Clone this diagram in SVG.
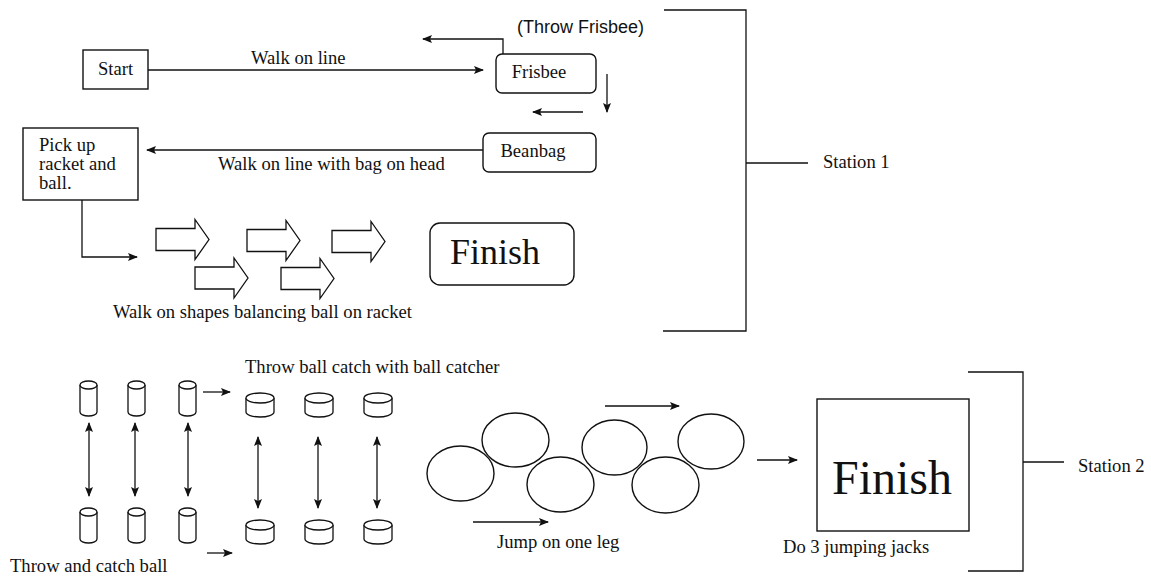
<svg xmlns="http://www.w3.org/2000/svg" xmlns:xlink="http://www.w3.org/1999/xlink" width="1151" height="579" viewBox="0 0 1151 579">
<style>
.s{fill:none;stroke:#111;stroke-width:1.3}
.b{fill:#fff;stroke:#111;stroke-width:1.4}
.t{font-family:"Liberation Serif","Times New Roman",serif;font-size:18.6px;fill:#111}
.a{font-family:"Liberation Sans",Arial,sans-serif;font-size:18px;fill:#111}
</style>
<defs>
<marker id="ah" viewBox="0 0 10 8" refX="9" refY="4" markerWidth="10" markerHeight="8" markerUnits="userSpaceOnUse" orient="auto-start-reverse">
<path d="M0,0 L10,4 L0,8 L2,4 Z" fill="#111"/>
</marker>
<path id="blk" d="M0,-11 H39 V-20 L53,0 L39,20 V11 H0 Z" fill="#fff" stroke="#111" stroke-width="1.3"/>
<g id="tcyl"><path d="M0,4 V31 A8.5,4 0 0 0 17,31 V4" fill="#fff" stroke="#111" stroke-width="1.3"/><ellipse cx="8.5" cy="4" rx="8.5" ry="4" fill="#fff" stroke="#111" stroke-width="1.3"/></g>
<g id="wcyl"><path d="M0,5 V19 A14,5 0 0 0 28,19 V5" fill="#fff" stroke="#111" stroke-width="1.3"/><ellipse cx="14" cy="5" rx="14" ry="5" fill="#fff" stroke="#111" stroke-width="1.3"/></g>
</defs>

<g id="connectors">
<path class="s" d="M148,70 H483" marker-end="url(#ah)"/>
<path class="s" d="M503,54 V39 H423" marker-end="url(#ah)"/>
<path class="s" d="M607,74 V112" marker-end="url(#ah)"/>
<path class="s" d="M583,112 H533" marker-end="url(#ah)"/>
<path class="s" d="M483,150 H147" marker-end="url(#ah)"/>
<path class="s" d="M82,200 V257 H137" marker-end="url(#ah)"/>
<path class="s" d="M203,392 H230" marker-end="url(#ah)"/>
<path class="s" d="M207,553 H232" marker-end="url(#ah)"/>
<path class="s" d="M89,423 V496" marker-start="url(#ah)" marker-end="url(#ah)"/>
<path class="s" d="M135,423 V496" marker-start="url(#ah)" marker-end="url(#ah)"/>
<path class="s" d="M188,423 V496" marker-start="url(#ah)" marker-end="url(#ah)"/>
<path class="s" d="M258,437 V508" marker-start="url(#ah)" marker-end="url(#ah)"/>
<path class="s" d="M318,437 V508" marker-start="url(#ah)" marker-end="url(#ah)"/>
<path class="s" d="M377,437 V508" marker-start="url(#ah)" marker-end="url(#ah)"/>
<path class="s" d="M605,406 H679" marker-end="url(#ah)"/>
<path class="s" d="M473,522 H548" marker-end="url(#ah)"/>
<path class="s" d="M757,460 H797" marker-end="url(#ah)"/>
</g>

<g id="start"><rect class="b" x="83" y="50" width="65" height="39"/><text class="t" x="115.5" y="75" text-anchor="middle">Start</text></g>
<text class="t" x="251" y="64">Walk on line</text>
<g id="frisbee"><rect class="b" x="496" y="54" width="100" height="39" rx="6"/><text class="t" x="539" y="78" text-anchor="middle">Frisbee</text></g>
<text class="a" x="517" y="33">(Throw Frisbee)</text>
<g id="beanbag"><rect class="b" x="483" y="133" width="113" height="39" rx="6"/><text class="t" x="533" y="157" text-anchor="middle">Beanbag</text></g>
<text class="t" x="218" y="170">Walk on line with bag on head</text>
<g id="pickup"><rect class="b" x="23" y="128" width="115" height="72"/>
<text class="t" x="39" y="151">Pick up</text><text class="t" x="39" y="170">racket and</text><text class="t" x="39" y="189">ball.</text></g>

<g id="shapes">
<use xlink:href="#blk" transform="translate(156,239.5)"/>
<use xlink:href="#blk" transform="translate(247,240.5)"/>
<use xlink:href="#blk" transform="translate(332,241.5)"/>
<use xlink:href="#blk" transform="translate(195,278)"/>
<use xlink:href="#blk" transform="translate(281,278.5)"/>
</g>
<text class="t" x="113" y="318">Walk on shapes balancing ball on racket</text>
<g id="finish1"><rect class="b" x="430" y="223" width="144" height="62" rx="10"/><text class="t" x="495" y="264" text-anchor="middle" style="font-size:36px">Finish</text></g>

<g id="station1">
<path class="s" d="M664,10 H746 V331 H663 M746,163 H808"/>
<text class="t" x="823" y="168">Station 1</text>
</g>

<g id="cylinders">
<use xlink:href="#tcyl" x="80" y="381"/><use xlink:href="#tcyl" x="128" y="381"/><use xlink:href="#tcyl" x="179" y="381"/>
<use xlink:href="#tcyl" x="80" y="508"/><use xlink:href="#tcyl" x="128" y="508"/><use xlink:href="#tcyl" x="179" y="508"/>
<use xlink:href="#wcyl" x="246" y="393"/><use xlink:href="#wcyl" x="305" y="393"/><use xlink:href="#wcyl" x="364" y="393"/>
<use xlink:href="#wcyl" x="246" y="520"/><use xlink:href="#wcyl" x="305" y="520"/><use xlink:href="#wcyl" x="364" y="520"/>
</g>
<text class="t" x="245" y="373">Throw ball catch with ball catcher</text>
<text class="t" x="10" y="572">Throw and catch ball</text>

<g id="rings">
<ellipse class="b" cx="460.5" cy="473.5" rx="33.5" ry="27.5"/>
<ellipse class="b" cx="515.5" cy="440" rx="33.5" ry="27"/>
<ellipse class="b" cx="560.5" cy="484.5" rx="33.5" ry="27.5"/>
<ellipse class="b" cx="614.5" cy="447.5" rx="32.5" ry="27.5"/>
<ellipse class="b" cx="665.5" cy="485" rx="33.5" ry="28"/>
<ellipse class="b" cx="711" cy="441.5" rx="33" ry="27.5"/>
</g>
<text class="t" x="497" y="548">Jump on one leg</text>

<g id="finish2"><rect class="b" x="817" y="399" width="152" height="132"/><text class="t" x="892" y="494" text-anchor="middle" style="font-size:48px">Finish</text></g>
<text class="t" x="783" y="553">Do 3 jumping jacks</text>

<g id="station2">
<path class="s" d="M968,372 H1023 V571 H968 M1023,462 H1064"/>
<text class="t" x="1078" y="472">Station 2</text>
</g>
</svg>
